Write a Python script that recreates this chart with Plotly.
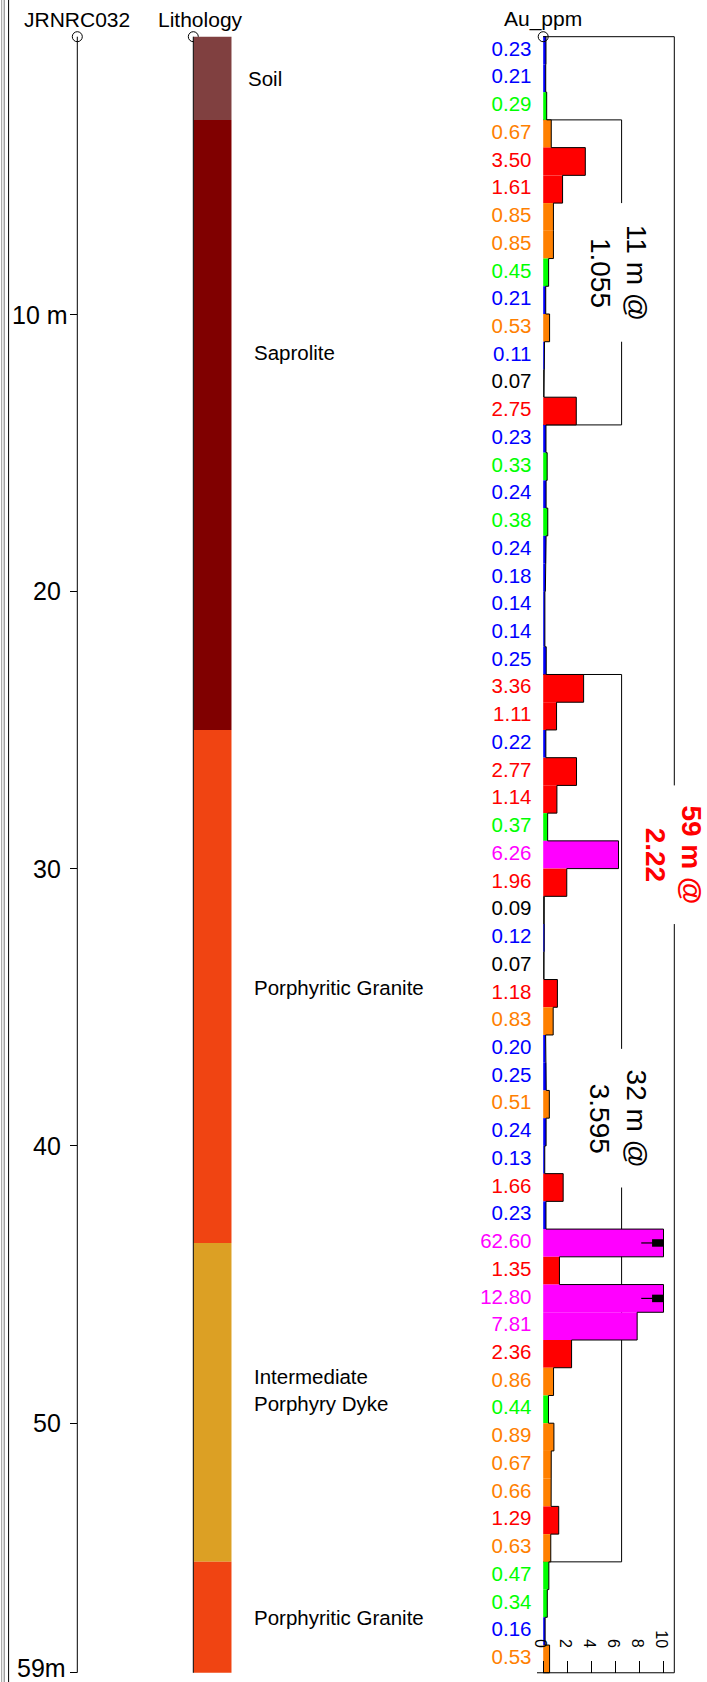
import plotly.graph_objects as go

W, H = 707, 1682

# ---------------- data ----------------
hole_id = "JRNRC032"
au_ppm = [0.23, 0.21, 0.29, 0.67, 3.50, 1.61, 0.85, 0.85, 0.45, 0.21,
          0.53, 0.11, 0.07, 2.75, 0.23, 0.33, 0.24, 0.38, 0.24, 0.18,
          0.14, 0.14, 0.25, 3.36, 1.11, 0.22, 2.77, 1.14, 0.37, 6.26,
          1.96, 0.09, 0.12, 0.07, 1.18, 0.83, 0.20, 0.25, 0.51, 0.24,
          0.13, 1.66, 0.23, 62.60, 1.35, 12.80, 7.81, 2.36, 0.86, 0.44,
          0.89, 0.67, 0.66, 1.29, 0.63, 0.47, 0.34, 0.16, 0.53]
sample_from = list(range(0, 59))
sample_to = list(range(1, 60))

litho_names = ["Soil", "Saprolite", "Porphyritic Granite",
               "Intermediate<br>Porphyry Dyke", "Porphyritic Granite"]
litho_from = [0, 3, 25, 43.5, 55]
litho_to = [3, 25, 43.5, 55, 59]
litho_colors = ["#804040", "#800000", "#F04412", "#DCA024", "#F04412"]
litho_label_depth = [1.5, 11.4, 34.3, 48.8, 57.0]
litho_label_x = [246, 252, 252, 252, 252]

intercept_from = [3, 23, 0]
intercept_to = [14, 55, 59]
intercept_length = ["11 m @", "32 m @", "59 m @"]
intercept_grade = ["1.055", "3.595", "2.22"]

depth_tickvals = [10, 20, 30, 40, 50, 59]
depth_ticktext = ["10 m", "20", "30", "40", "50", "59m"]
depth_label_right = [69, 62, 62, 62, 62, 67]
depth_label_shift = [-1, 0, 0, 0, 0, 5]
au_tickvals = [0, 2, 4, 6, 8, 10]
au_max = 10

# grade class thresholds and colours
class_limits = [0.1, 0.25, 0.5, 1.0, 5.0]
class_colors = ["#000000", "#0000FF", "#00FF00", "#FF8000", "#FF0000", "#FF00FF"]


def grade_color(v):
    if v < class_limits[0]:
        return class_colors[0]
    if v <= class_limits[1]:
        return class_colors[1]
    if v < class_limits[2]:
        return class_colors[2]
    if v < class_limits[3]:
        return class_colors[3]
    if v < class_limits[4]:
        return class_colors[4]
    return class_colors[5]


# ---------------- geometry ----------------
PX_M = 27.73          # pixels per metre
Y0 = 36.7             # pixel row of depth 0
Y_TOP = -Y0 / PX_M
Y_BOT = (H - Y0) / PX_M
AU0_PX = 543.2        # pixel column of Au = 0
AU_PX = 12.03         # pixels per ppm
AUX_L, AUX_R = 520, 707
X_DEPTH = 77.3
X_LITH_L, X_LITH_R = 193.3, 231.7

FONT = "Liberation Sans, Arial, sans-serif"


def px(x):
    return x / W


def py(y):
    return 1 - y / H


mids = [(a + b) / 2 for a, b in zip(sample_from, sample_to)]
thick = [b - a for a, b in zip(sample_from, sample_to)]
au_clip = [min(v, au_max) for v in au_ppm]
colors = [grade_color(v) for v in au_ppm]

fig = go.Figure()

# lithology column
fig.add_trace(go.Bar(
    orientation="h",
    x=[1] * len(litho_from),
    y=[(a + b) / 2 for a, b in zip(litho_from, litho_to)],
    width=[b - a for a, b in zip(litho_from, litho_to)],
    base=0,
    marker=dict(color=litho_colors, line=dict(width=0)),
    xaxis="x2", yaxis="y", showlegend=False, hoverinfo="skip",
))

# Au bars
fig.add_trace(go.Bar(
    orientation="h",
    x=au_clip, y=mids, width=thick, base=0,
    marker=dict(color=colors, line=dict(width=0)),
    xaxis="x", yaxis="y", showlegend=False, hoverinfo="skip",
))

# step outline of the bars
ox, oy = [0], [sample_from[0]]
for v, a, b in zip(au_clip, sample_from, sample_to):
    ox += [v, v]
    oy += [a, b]
ox.append(0)
oy.append(sample_to[-1])
fig.add_trace(go.Scatter(
    x=ox, y=oy, mode="lines", line=dict(color="black", width=1),
    xaxis="x", yaxis="y", showlegend=False, hoverinfo="skip",
))

# overflow markers for values beyond the scale
thin_x, thin_y, thk_x, thk_y = [], [], [], []
for v, m in zip(au_ppm, mids):
    if v > au_max:
        thin_x += [au_max * 0.815, au_max * 0.91, None]
        thin_y += [m, m, None]
        thk_x += [au_max * 0.905, au_max * 0.998, None]
        thk_y += [m, m, None]
fig.add_trace(go.Scatter(x=thin_x, y=thin_y, mode="lines",
                         line=dict(color="black", width=1.2),
                         xaxis="x", yaxis="y", showlegend=False, hoverinfo="skip"))
fig.add_trace(go.Scatter(x=thk_x, y=thk_y, mode="lines",
                         line=dict(color="black", width=7.5),
                         xaxis="x", yaxis="y", showlegend=False, hoverinfo="skip"))

# value labels
fig.add_trace(go.Scatter(
    x=[(531.5 - AU0_PX) / AU_PX] * len(au_ppm), y=mids, mode="text",
    text=[f"{v:.2f}" for v in au_ppm], textposition="middle left",
    textfont=dict(color=colors, size=20.5, family=FONT),
    cliponaxis=False, xaxis="x", yaxis="y", showlegend=False, hoverinfo="skip",
))

shapes = []
annotations = []

# left frame lines
for xx, col in [(1.7, "#999999"), (4.2, "#777777"), (8.6, "#000000")]:
    shapes.append(dict(type="line", xref="paper", yref="paper",
                       x0=px(xx), x1=px(xx), y0=0, y1=1,
                       line=dict(color=col, width=1)))

# depth line and lithology edge line
for xx in [X_DEPTH, X_LITH_L]:
    shapes.append(dict(type="line", xref="paper", yref="y",
                       x0=px(xx), x1=px(xx), y0=0, y1=sample_to[-1],
                       line=dict(color="black", width=1)))

# collar circles
for xx, layer in [(X_DEPTH, "above"), (X_LITH_L, "below"), (AU0_PX, "above")]:
    r = 5
    shapes.append(dict(type="circle", xref="paper", yref="paper", layer=layer,
                       x0=px(xx - r), x1=px(xx + r),
                       y0=py(Y0 + r), y1=py(Y0 - r),
                       line=dict(color="black", width=1)))

# depth labels
for tv, tt, rx, sh in zip(depth_tickvals, depth_ticktext, depth_label_right, depth_label_shift):
    annotations.append(dict(
        x=px(rx), y=tv, xref="paper", yref="y", text=tt, showarrow=False,
        xanchor="right", yanchor="middle", yshift=sh, borderpad=0,
        font=dict(size=25, color="black", family=FONT)))

# bottom Au axis line
shapes.append(dict(type="line", xref="x", yref="y",
                   x0=(537 - AU0_PX) / AU_PX, x1=(674.3 - AU0_PX) / AU_PX,
                   y0=sample_to[-1], y1=sample_to[-1],
                   line=dict(color="black", width=1)))

# Au scale tick labels (rotated, above the ticks)
for tv in au_tickvals:
    annotations.append(dict(
        x=tv, y=sample_to[-1], xref="x", yref="y", text=str(tv),
        showarrow=False, textangle=90, xanchor="center", yanchor="bottom",
        xshift=-2, yshift=23, font=dict(size=16, color="black", family=FONT)))

# intercept brackets
inner_x = (621.6 - AU0_PX) / AU_PX
outer_x = (674.3 - AU0_PX) / AU_PX
gap = 2.5
for f, t, L, G in zip(intercept_from, intercept_to, intercept_length, intercept_grade):
    is_total = (f == 0 and t == sample_to[-1])
    bx = outer_x if is_total else inner_x
    c = (f + t) / 2
    segs = [(0, f, bx, f), (bx, f, bx, c - gap), (bx, c + gap, bx, t)]
    if not is_total:
        segs.append((bx, t, 0, t))
    for x0, y0, x1, y1 in segs:
        shapes.append(dict(type="line", xref="x", yref="y", layer="below",
                           x0=x0, y0=y0, x1=x1, y1=y1,
                           line=dict(color="black", width=1)))
    if is_total:
        annotations.append(dict(
            x=bx, y=c, xref="x", yref="y", xshift=-1, borderpad=0,
            text=f"<b>{L}<br>{G}</b>", showarrow=False, textangle=90,
            font=dict(size=28, color="#FF0000", family=FONT),
            xanchor="center", yanchor="middle", align="center"))
    else:
        annotations.append(dict(
            x=bx, y=c, xref="x", yref="y", xshift=-3,
            text=f"{L}<br>{G}", showarrow=False, textangle=90,
            font=dict(size=28, color="black", family=FONT),
            xanchor="center", yanchor="middle", align="center"))

# lithology labels
for name, d, lx in zip(litho_names, litho_label_depth, litho_label_x):
    annotations.append(dict(
        x=px(lx), y=d, xref="paper", yref="y", text=name, showarrow=False,
        xanchor="left", yanchor="middle", align="left",
        font=dict(size=20.5, color="black", family=FONT)))

# column titles
for txt, xx in [(hole_id, 77), ("Lithology", 200), ("Au_ppm", 543)]:
    annotations.append(dict(
        x=px(xx), y=py(19.5), xref="paper", yref="paper", text=txt,
        showarrow=False, xanchor="center", yanchor="middle",
        font=dict(size=21, color="black", family=FONT)))

fig.update_layout(
    width=W, height=H,
    margin=dict(l=0, r=0, t=0, b=0),
    paper_bgcolor="white", plot_bgcolor="rgba(0,0,0,0)",
    barmode="overlay", hovermode=False,
    font=dict(family=FONT, color="black"),
    shapes=shapes, annotations=annotations,
    xaxis=dict(
        domain=[px(AUX_L), px(AUX_R)],
        range=[(AUX_L - AU0_PX) / AU_PX, (AUX_R - AU0_PX) / AU_PX],
        anchor="free", position=(H - (Y0 + sample_to[-1] * PX_M)) / H,
        showline=False, showgrid=False, zeroline=False,
        tickvals=au_tickvals, ticks="inside", ticklen=12, tickcolor="black",
        showticklabels=False,
    ),
    xaxis2=dict(
        domain=[px(X_LITH_L), px(X_LITH_R)], range=[0, 1],
        anchor="y", visible=False,
    ),
    yaxis=dict(
        domain=[0, 1], range=[Y_BOT, Y_TOP], autorange=False,
        anchor="free", position=px(X_DEPTH), side="left",
        showline=False, showgrid=False, zeroline=False,
        tickvals=depth_tickvals, ticks="outside", ticklen=7,
        tickcolor="black", showticklabels=False,
    ),
    yaxis2=dict(
        overlaying="y", range=[Y_BOT, Y_TOP], autorange=False,
        anchor="free", position=px(X_LITH_L), side="left",
        showline=False, showgrid=False, zeroline=False,
        tickvals=depth_tickvals, ticks="outside", ticklen=6,
        tickcolor="black", showticklabels=False,
    ),
    yaxis3=dict(
        overlaying="y", range=[Y_BOT, Y_TOP], autorange=False,
        anchor="free", position=px(X_LITH_L), side="left",
        showline=False, showgrid=False, zeroline=False,
        tickvals=litho_to, ticks="inside", ticklen=9,
        tickcolor="black", showticklabels=False,
    ),
)

fig.write_html(
    "out.html",
    config={"displayModeBar": False, "staticPlot": True},
    post_script=("document.documentElement.style.margin='0';"
                 "document.documentElement.style.overflow='hidden';"
                 "document.body.style.margin='0';"
                 "document.body.style.padding='0';"
                 "document.body.style.overflow='hidden';"),
)
